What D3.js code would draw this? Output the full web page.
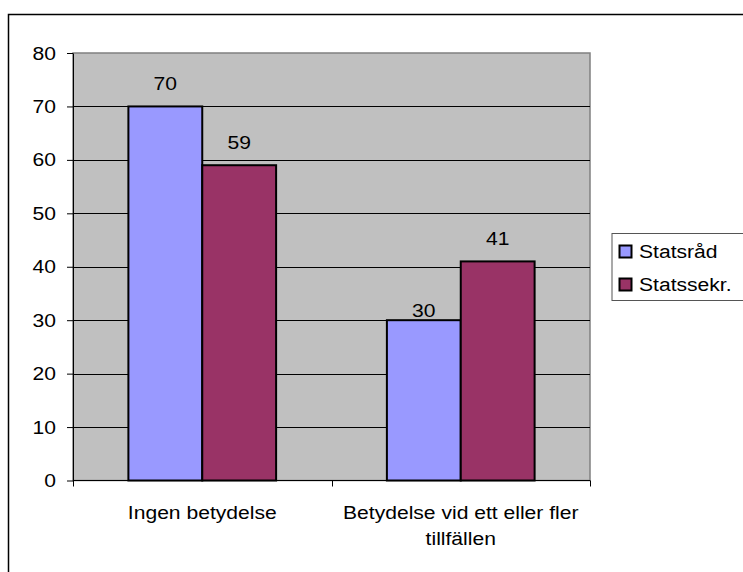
<!DOCTYPE html>
<html>
<head>
<meta charset="utf-8">
<script src="https://cdn.jsdelivr.net/npm/d3@7"></script>
<style>
  body { margin: 0; background: #fff; }
  svg { display: block; }
  text { font-family: "Liberation Sans", Arial, sans-serif; fill: #000; }
</style>
</head>
<body>
<div class="canvas"></div>
<script>
// data
var categories = ['Ingen betydelse', 'Betydelse vid ett eller fler tillfällen'];
var categoryLines = [['Ingen betydelse'], ['Betydelse vid ett eller fler', 'tillfällen']];
var seriesNames = ['Statsråd', 'Statssekr.'];
var statsrad = [70, 30];
var statssekr = [59, 41];
var yTicks = [0, 10, 20, 30, 40, 50, 60, 70, 80];

var colors = ['#9999FF', '#993366'];
var fontSize = 19;
var sx = 1.11; // text in the picture is a bit wider than tall

var width = 743, height = 572;
var plot = { left: 73, top: 53, right: 590, bottom: 480.5 };

var svg = d3.select('.canvas')
  .append('svg')
    .attr('width', width)
    .attr('height', height);

// outer chart border (runs off the right and bottom)
svg.append('rect')
  .attr('x', 8.5).attr('y', 14.5)
  .attr('width', 760).attr('height', 600)
  .attr('fill', 'none')
  .attr('stroke', '#000')
  .attr('stroke-width', 1.5);

var y = d3.scaleLinear().domain([0, 80]).range([plot.bottom, plot.top]);
var x0 = d3.scaleBand().domain(categories).range([plot.left, plot.right]);
var x1 = d3.scaleBand().domain(seriesNames).range([0, x0.bandwidth()])
  .paddingInner(0).paddingOuter(0.75);

// plot area
svg.append('rect')
  .attr('x', plot.left).attr('y', plot.top)
  .attr('width', plot.right - plot.left)
  .attr('height', plot.bottom - plot.top)
  .attr('fill', '#C0C0C0')
  .attr('stroke', '#808080')
  .attr('stroke-width', 1.5);

// gridlines
svg.append('g')
  .selectAll('line')
  .data(yTicks.filter(function(d){ return d > 0 && d < 80; }))
  .enter()
  .append('line')
    .attr('x1', plot.left).attr('x2', plot.right)
    .attr('y1', function(d){ return Math.round(y(d)) + 0.5; })
    .attr('y2', function(d){ return Math.round(y(d)) + 0.5; })
    .attr('stroke', '#000')
    .attr('stroke-width', 1);

function stretchText(sel) {
  sel.each(function() {
    var t = d3.select(this);
    var tx = +t.attr('x') || 0;
    var ty = +t.attr('y') || 0;
    t.attr('x', 0).attr('y', 0)
     .attr('transform', 'translate(' + tx + ',' + ty + ') scale(' + sx + ',1)');
  });
}

// y axis
var yAxis = svg.append('g')
  .attr('transform', 'translate(' + plot.left + ',0)')
  .call(d3.axisLeft(y).tickValues(yTicks).tickSize(6).tickPadding(11).tickSizeOuter(0));
yAxis.select('.domain').attr('stroke', '#000');
yAxis.selectAll('.tick line').attr('stroke', '#000');
yAxis.selectAll('.tick text')
  .attr('font-size', fontSize)
  .attr('font-family', '"Liberation Sans", Arial, sans-serif')
  .attr('fill', '#000')
  .call(stretchText);

// bars
var seriesValues = [statsrad, statssekr];
var groups = svg.append('g')
  .selectAll('g')
  .data(categories)
  .enter()
  .append('g')
    .attr('transform', function(d){ return 'translate(' + x0(d) + ',0)'; });

groups.selectAll('rect')
  .data(function(d, i){
    return seriesNames.map(function(s, j){ return { series: s, value: seriesValues[j][i], j: j }; });
  })
  .enter()
  .append('rect')
    .attr('x', function(d){ return x1(d.series); })
    .attr('y', function(d){ return y(d.value); })
    .attr('width', x1.bandwidth())
    .attr('height', function(d){ return y(0) - y(d.value); })
    .attr('fill', function(d){ return colors[d.j]; })
    .attr('stroke', '#000')
    .attr('stroke-width', 2);

// value labels; the "30" label sits closer to its bar in the picture
var labelGap = 16;
var labelNudge = { 'Betydelse vid ett eller fler tillfällen|Statsråd': 13 };
groups.each(function(cat) {
  d3.select(this).selectAll('text')
    .data(function(d, i){
      var ci = categories.indexOf(cat);
      return seriesNames.map(function(s, j){ return { series: s, value: seriesValues[j][ci] }; });
    })
    .enter()
    .append('text')
      .attr('x', function(d){ return x1(d.series) + x1.bandwidth() / 2; })
      .attr('y', function(d){ return y(d.value) - labelGap + (labelNudge[cat + '|' + d.series] || 0); })
      .attr('text-anchor', 'middle')
      .attr('font-size', fontSize)
      .text(function(d){ return d.value; })
      .call(stretchText);
});

// x axis
svg.append('line')
  .attr('x1', plot.left).attr('x2', plot.right)
  .attr('y1', plot.bottom).attr('y2', plot.bottom)
  .attr('stroke', '#000').attr('stroke-width', 1);

var boundaries = categories.map(function(d){ return x0(d); }).concat([x0.range()[1]]);
svg.append('g')
  .selectAll('line')
  .data(boundaries)
  .enter()
  .append('line')
    .attr('x1', function(d){ return Math.round(d) + 0.5; })
    .attr('x2', function(d){ return Math.round(d) + 0.5; })
    .attr('y1', plot.bottom).attr('y2', plot.bottom + 6)
    .attr('stroke', '#000');

var xLabels = svg.append('g')
  .selectAll('g')
  .data(categories)
  .enter()
  .append('g');

xLabels.each(function(cat, i) {
  d3.select(this).selectAll('text')
    .data(categoryLines[i])
    .enter()
    .append('text')
      .attr('x', x0(cat) + x0.bandwidth() / 2)
      .attr('y', function(d, k){ return plot.bottom + 38 + k * 26; })
      .attr('text-anchor', 'middle')
      .attr('font-size', fontSize)
      .text(function(d){ return d; })
      .call(stretchText);
});

// legend
var legend = svg.append('g').attr('transform', 'translate(612,233.5)');
legend.append('rect')
  .attr('x', 0).attr('y', 0)
  .attr('width', 140).attr('height', 67)
  .attr('fill', '#fff')
  .attr('stroke', '#555')
  .attr('stroke-width', 1);

var item = legend.selectAll('.item')
  .data(seriesNames)
  .enter()
  .append('g')
    .attr('class', 'item')
    .attr('transform', function(d, i){ return 'translate(0,' + (i * 33) + ')'; });

item.append('rect')
  .attr('x', 7.5).attr('y', 12)
  .attr('width', 12).attr('height', 12)
  .attr('fill', function(d, i){ return colors[i]; })
  .attr('stroke', '#000')
  .attr('stroke-width', 2);

item.append('text')
  .attr('x', 27).attr('y', 24.5)
  .attr('font-size', fontSize)
  .text(function(d){ return d; })
  .call(stretchText);
</script>
</body>
</html>
